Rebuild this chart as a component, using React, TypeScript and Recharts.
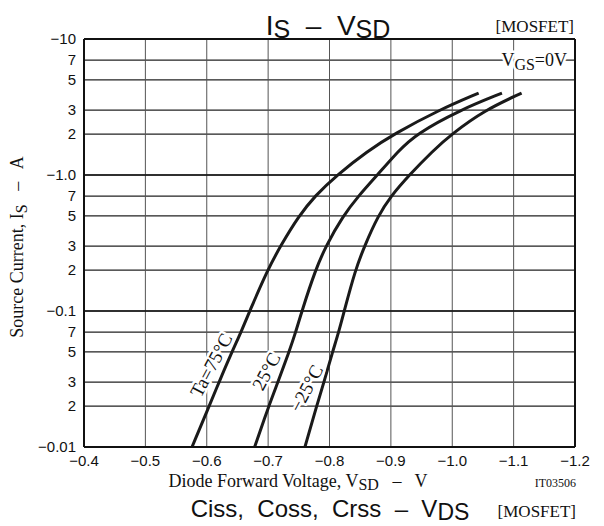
import React from "react"
import { CartesianGrid, Line, LineChart, ReferenceDot, ReferenceLine, XAxis, YAxis } from "recharts"

// source current (A, magnitude) at which each curve was read
const currents = [0.01, 0.02, 0.03, 0.05, 0.07, 0.1, 0.2, 0.3, 0.5, 0.7, 1.0, 1.5, 2, 3, 4]

// diode forward voltage (V, magnitude) for each temperature
const vsd75 = [0.576, 0.604, 0.62, 0.641, 0.656, 0.67, 0.699, 0.72, 0.75, 0.776, 0.812, 0.862, 0.905, 0.978, 1.043]
const vsd25 = [0.678, 0.701, 0.716, 0.734, 0.745, 0.755, 0.777, 0.794, 0.822, 0.847, 0.878, 0.912, 0.941, 1.012, 1.081]
const vsdM25 = [0.76, 0.779, 0.791, 0.805, 0.815, 0.824, 0.842, 0.857, 0.879, 0.9, 0.93, 0.968, 0.999, 1.053, 1.113]

const xTicks = [0.4, 0.5, 0.6, 0.7, 0.8, 0.9, 1.0, 1.1, 1.2]
const yTicks = [0.01, 0.02, 0.03, 0.05, 0.07, 0.1, 0.2, 0.3, 0.5, 0.7, 1, 2, 3, 5, 7, 10]
const decadeLabels: Record<string, string> = { "0.01": "−0.01", "0.1": "−0.1", "1": "−1.0", "10": "−10" }

// curve labels: text, anchor voltage, anchor current
const curveLabels = [
  { text: "Ta=75°C", v: 0.607, i: 0.04 },
  { text: "25°C", v: 0.697, i: 0.036 },
  { text: "−25°C", v: 0.762, i: 0.027 },
]

const toPoints = (vs: number[]) => vs.map((v, k) => ({ v, i: currents[k] }))
const series = [
  { name: "75", data: toPoints(vsd75) },
  { name: "25", data: toPoints(vsd25) },
  { name: "-25", data: toPoints(vsdM25) },
]

const SANS = "'Liberation Sans', Arial, sans-serif"
const SERIF = "'Liberation Serif', 'Times New Roman', serif"
const mask = { stroke: "#fff", strokeWidth: 5, paintOrder: "stroke" as const, strokeLinejoin: "round" as const }

const fmtY = (val: number) => {
  const key = String(val)
  if (decadeLabels[key]) return decadeLabels[key]
  return String(Math.round(val / Math.pow(10, Math.floor(Math.log10(val) + 1e-9))))
}

function CurveLabel(props: any) {
  const vb = props.viewBox || {}
  const x = vb.x + (vb.width || 0) / 2
  const y = vb.y + (vb.height || 0) / 2
  return (
    <text
      x={x}
      y={y}
      transform={`rotate(-62 ${x} ${y})`}
      textAnchor="middle"
      dominantBaseline="central"
      fontFamily={SERIF}
      fontSize={19}
      fill="#111"
      style={mask}
    >
      {props.text}
    </text>
  )
}

export default function App() {
  return (
    <div style={{ position: "absolute", left: 0, top: 0, width: 604, height: 526, background: "#fff" }}>
      <LineChart width={604} height={526} margin={{ top: 39, right: 29, bottom: 0, left: 0 }}>
        <CartesianGrid stroke="#222" strokeWidth={1.2} vertical={false} />
        <CartesianGrid stroke="#555" strokeWidth={1} horizontal={false} />
        <XAxis
          type="number"
          dataKey="v"
          domain={[0.4, 1.2]}
          ticks={xTicks}
          interval={0}
          allowDataOverflow
          height={79}
          tickLine={false}
          axisLine={{ stroke: "#111", strokeWidth: 2 }}
          tick={{ fill: "#111", fontSize: 15, fontFamily: SANS }}
          tickFormatter={(v: number) => `−${v.toFixed(1)}`}
        />
        <YAxis
          type="number"
          dataKey="i"
          scale="log"
          domain={[0.01, 10]}
          ticks={yTicks}
          interval={0}
          allowDataOverflow
          width={84}
          tickLine={false}
          axisLine={{ stroke: "#111", strokeWidth: 2 }}
          tick={{ fill: "#111", fontSize: 15, fontFamily: SANS }}
          tickFormatter={fmtY}
        />
        <ReferenceLine y={10} stroke="#111" strokeWidth={2} />
        <ReferenceLine x={1.2} stroke="#111" strokeWidth={2} />
        <ReferenceLine y={1} stroke="#111" strokeWidth={1.5} />
        <ReferenceLine y={0.1} stroke="#111" strokeWidth={1.5} />
        {series.map((s) => (
          <Line
            key={s.name}
            data={s.data}
            dataKey="i"
            type="basis"
            stroke="#1a1a1a"
            strokeWidth={3}
            dot={false}
            isAnimationActive={false}
          />
        ))}
        {curveLabels.map((c) => (
          <ReferenceDot
            key={c.text}
            x={c.v}
            y={c.i}
            r={1}
            fill="none"
            stroke="none"
            label={(p: any) => <CurveLabel {...p} text={c.text} />}
          />
        ))}
      </LineChart>
      <svg width={604} height={526} style={{ position: "absolute", left: 0, top: 0, pointerEvents: "none" }}>
        <text
          x={328}
          y={35}
          textAnchor="middle"
          fontFamily={SANS}
          fontSize={28}
          fill="#111"
          style={{ whiteSpace: "pre" }}
        >
          I<tspan fontSize={25} dy={3}>S</tspan>
          <tspan dy={-3}>{"  –  "}V</tspan>
          <tspan fontSize={25} dy={3}>SD</tspan>
        </text>
        <text x={574} y={32} textAnchor="end" fontFamily={SERIF} fontSize={17} fill="#111">
          [MOSFET]
        </text>
        <text x={567} y={66} textAnchor="end" fontFamily={SERIF} fontSize={18} fill="#111" style={mask}>
          V<tspan fontSize={16} dy={4}>GS</tspan>
          <tspan dy={-4}>=0V</tspan>
        </text>
        <text
          x={23}
          y={247}
          transform="rotate(-90 23 247)"
          textAnchor="middle"
          fontFamily={SERIF}
          fontSize={18}
          fill="#111"
          style={{ whiteSpace: "pre" }}
        >
          Source Current, I<tspan fontSize={16} dy={4}>S</tspan>
          <tspan dy={-4}>{"   –   A"}</tspan>
        </text>
        <text
          x={298}
          y={487}
          textAnchor="middle"
          fontFamily={SERIF}
          fontSize={18}
          fill="#111"
          style={{ whiteSpace: "pre" }}
        >
          Diode Forward Voltage, V<tspan fontSize={16} dy={3}>SD</tspan>
          <tspan dy={-3}>{"   –   V"}</tspan>
        </text>
        <text x={576} y={487} textAnchor="end" fontFamily={SERIF} fontSize={12} fill="#111">
          IT03506
        </text>
        <text
          x={330}
          y={517}
          textAnchor="middle"
          fontFamily={SANS}
          fontSize={24}
          fill="#111"
          style={{ whiteSpace: "pre" }}
        >
          {"Ciss,  Coss,  Crss  –  V"}
          <tspan fontSize={23} dy={3}>DS</tspan>
        </text>
        <text x={576} y={517} textAnchor="end" fontFamily={SERIF} fontSize={17} fill="#111">
          [MOSFET]
        </text>
      </svg>
    </div>
  )
}
